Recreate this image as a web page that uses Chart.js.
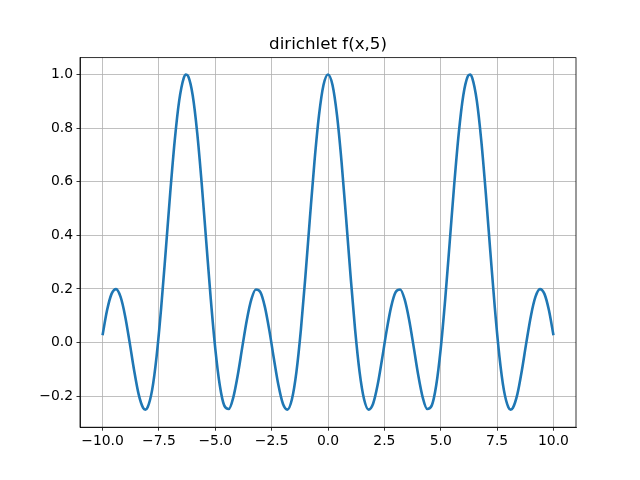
<!DOCTYPE html>
<html>
<head>
<meta charset="utf-8">
<title>dirichlet f(x,5)</title>
<script src="https://cdn.jsdelivr.net/npm/chart.js@4"></script>
<style>
  html, body { margin: 0; padding: 0; background: #fff; }
  #wrap { width: 640px; height: 480px; }
</style>
</head>
<body>
<div id="wrap"><canvas id="diricChart" width="640" height="480"></canvas></div>
<script>
// sample positions and values
const xValues = [
  -10, -9.8, -9.6, -9.4, -9.2, -9, -8.8, -8.6, -8.4, -8.2, -8.1, -8, -7.8, -7.6, -7.4, -7.2, -7,
  -6.8, -6.6, -6.4, -6.3, -6.2, -6, -5.8, -5.6, -5.4, -5.2, -5, -4.8, -4.6, -4.4, -4.2, -4,
  -3.8, -3.6, -3.4, -3.2, -3, -2.8, -2.6, -2.4, -2.2, -2, -1.8, -1.6, -1.4, -1.2, -1, -0.8,
  -0.6, -0.4, -0.2, 0, 0.2, 0.4, 0.6, 0.8, 1, 1.2, 1.4, 1.6, 1.8, 2, 2.2, 2.4, 2.6, 2.8, 3,
  3.2, 3.4, 3.6, 3.8, 4, 4.2, 4.4, 4.6, 4.8, 5, 5.2, 5.4, 5.6, 5.8, 6, 6.2, 6.3, 6.4, 6.6,
  6.8, 7, 7.2, 7.4, 7.6, 7.8, 8, 8.1, 8.2, 8.4, 8.6, 8.8, 9, 9.2, 9.4, 9.6, 9.8, 10
];
const yValues = [
  0.0276, 0.1204, 0.1818, 0.1996, 0.1703, 0.0997, 0.0019, -0.1030, -0.1920, -0.2436, -0.2499, -0.2413, -0.1761, -0.0490, 0.1293, 0.3394, 0.5563,
  0.7524, 0.9025, 0.9864, 0.9999, 0.9931, 0.9216, 0.7815, 0.5914, 0.3762, 0.1630, -0.0222, -0.1589, -0.2349, -0.2474, -0.2038, -0.1197,
  -0.0159, 0.0846, 0.1610, 0.1980, 0.1881, 0.1333, 0.0447, -0.0600, -0.1583, -0.2279, -0.2496, -0.2110, -0.1089, 0.0500, 0.2497, 0.4670,
  0.6751, 0.8471, 0.9605, 1.0, 0.9605, 0.8471, 0.6751, 0.4670, 0.2497, 0.0500, -0.1089, -0.2110, -0.2496, -0.2279, -0.1583, -0.0600, 0.0447, 0.1333, 0.1881,
  0.1980, 0.1610, 0.0846, -0.0159, -0.1197, -0.2038, -0.2474, -0.2349, -0.1589, -0.0222, 0.1630, 0.3762, 0.5914, 0.7815, 0.9216, 0.9931, 0.9999, 0.9864, 0.9025,
  0.7524, 0.5563, 0.3394, 0.1293, -0.0490, -0.1761, -0.2413, -0.2499, -0.2436, -0.1920, -0.1030, 0.0019, 0.0997, 0.1703, 0.1996, 0.1818, 0.1204, 0.0276
];

const xTicks = [-10, -7.5, -5, -2.5, 0, 2.5, 5, 7.5, 10];
const xTickLabels = ['\u221210.0', '\u22127.5', '\u22125.0', '\u22122.5', '0.0', '2.5', '5.0', '7.5', '10.0'];
const yTicks = [-0.2, 0, 0.2, 0.4, 0.6, 0.8, 1.0];
const yTickLabels = ['\u22120.2', '0.0', '0.2', '0.4', '0.6', '0.8', '1.0'];

const points = xValues.map(function(x, i) { return { x: x, y: yValues[i] }; });

// top and right spines, like the matplotlib box
const boxPlugin = {
  id: 'box',
  afterDraw: function(chart) {
    const a = chart.chartArea;
    const c = chart.ctx;
    c.save();
    c.strokeStyle = '#000';
    c.lineWidth = 0.8;
    c.strokeRect(a.left, a.top, a.right - a.left, a.bottom - a.top);
    c.restore();
  }
};

const tickFont = { family: 'DejaVu Sans', size: 13.9 };

new Chart(document.getElementById('diricChart').getContext('2d'), {
  type: 'line',
  data: {
    datasets: [{
      data: points,
      borderColor: '#1f77b4',
      borderWidth: 2.6,
      pointRadius: 0,
      fill: false,
      cubicInterpolationMode: 'monotone'
    }]
  },
  options: {
    responsive: false,
    animation: false,
    devicePixelRatio: 1,
    layout: { padding: { left: 0, right: 64, top: 0, bottom: 0 } },
    plugins: {
      legend: { display: false },
      tooltip: { enabled: false },
      title: {
        display: true,
        fullSize: false,
        text: 'dirichlet f(x,5)',
        color: '#000',
        font: { family: 'DejaVu Sans', size: 16.7, weight: 'normal', lineHeight: 1.2 },
        padding: { top: 34.6, bottom: 3 }
      }
    },
    scales: {
      x: {
        type: 'linear',
        min: -11,
        max: 11,
        afterBuildTicks: function(scale) {
          scale.ticks = xTicks.map(function(v) { return { value: v }; });
        },
        afterFit: function(scale) { scale.height = 52.8; },
        ticks: {
          color: '#000',
          font: tickFont,
          padding: 2,
          maxRotation: 0,
          autoSkip: false,
          callback: function(v, i) { return xTickLabels[i]; }
        },
        grid: { color: '#b0b0b0', lineWidth: 0.8, tickColor: '#000', tickLength: 3.5 },
        border: { display: true, color: '#000', width: 0.8 }
      },
      y: {
        type: 'linear',
        min: -0.3153,
        max: 1.0626,
        afterBuildTicks: function(scale) {
          scale.ticks = yTicks.map(function(v) { return { value: v }; });
        },
        afterFit: function(scale) { scale.width = 80; },
        ticks: {
          color: '#000',
          font: tickFont,
          padding: 3.5,
          autoSkip: false,
          callback: function(v, i) { return yTickLabels[i]; }
        },
        grid: { color: '#b0b0b0', lineWidth: 0.8, tickColor: '#000', tickLength: 3.5 },
        border: { display: true, color: '#000', width: 0.8 }
      }
    }
  },
  plugins: [boxPlugin]
});
</script>
</body>
</html>
